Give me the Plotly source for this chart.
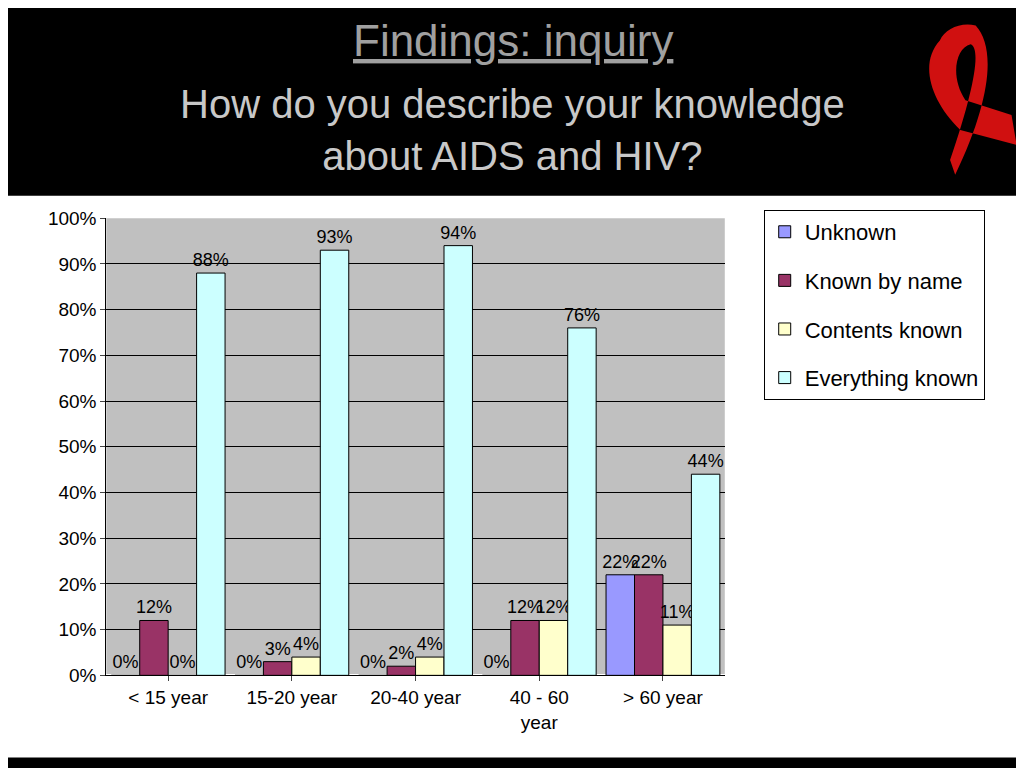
import plotly.graph_objects as go

categories = ["< 15 year", "15-20 year", "20-40 year", "40 - 60<br>year", "> 60 year"]
unknown = [0, 0, 0, 0, 22]
known_by_name = [12, 3, 2, 12, 22]
contents_known = [0, 4, 4, 12, 11]
everything_known = [88, 93, 94, 76, 44]
series = [("Unknown", unknown, "#9999ff"), ("Known by name", known_by_name, "#993366"),
          ("Contents known", contents_known, "#ffffcc"), ("Everything known", everything_known, "#ccffff")]

fig = go.Figure()
for name, vals, col in series:
    fig.add_trace(go.Bar(x=categories, y=vals, name=name, legendgroup=name,
                         marker=dict(color=col, line=dict(color="black", width=1)),
                         text=[f"{v}%" for v in vals], textposition="outside", cliponaxis=False, constraintext="none",
                         textfont=dict(size=18, color="black", family="Liberation Sans")))

fig.update_layout(
    width=1024, height=768, margin=dict(l=0, r=0, t=0, b=0), paper_bgcolor="black", plot_bgcolor="#c0c0c0",
    font=dict(family="Liberation Sans", color="black"),
    barmode="group", bargap=0.08, bargroupgap=0.0,
    xaxis=dict(domain=[0.096, 0.70], tickfont=dict(size=19), showline=True, linecolor="black", ticks="outside"),
    yaxis=dict(domain=[0.12, 0.732], range=[0, 100], dtick=10, ticksuffix="%", tickfont=dict(size=19),
               showgrid=True, gridcolor="black", showline=True, linecolor="black", ticks="outside"),
    legend=dict(x=0.738, y=0.743, xanchor="left", yanchor="top", bgcolor="white", bordercolor="black", borderwidth=1,
                font=dict(size=22), tracegroupgap=17, itemwidth=30),
    shapes=[
        dict(type="rect", xref="paper", yref="paper", x0=0.0, x1=0.997, y0=0.01, y1=0.762, fillcolor="white",
             line=dict(width=0), layer="below"),
        dict(type="rect", xref="x domain", yref="y domain", x0=0, x1=1, y0=0, y1=1, fillcolor="#c0c0c0",
             line=dict(width=0), layer="below"),
        dict(type="path", xref="paper", yref="paper",
             path="M 0.91,0.97 C 0.89,0.94 0.90,0.89 0.93,0.85 L 0.985,0.83 L 0.98,0.87 L 0.935,0.89 C 0.92,0.92 0.925,0.96 0.94,0.965 C 0.95,0.96 0.945,0.91 0.92,0.81 L 0.925,0.79 C 0.96,0.89 0.965,0.96 0.945,0.99 C 0.93,0.995 0.915,0.985 0.91,0.97 Z",
             fillcolor="#d01010", line=dict(width=0)),
    ],
    annotations=[
        dict(text="<u>Findings: inquiry</u>", x=0.493, y=0.97, xref="paper", yref="paper", showarrow=False,
             yanchor="middle", font=dict(size=44, color="#a0a0a0")),
        dict(text="How do you describe your knowledge<br>about AIDS and HIV?", x=0.493, y=0.85, xref="paper", yref="paper",
             yanchor="middle", showarrow=False, font=dict(size=40, color="#c8c8c8")),
    ],
)
fig.write_html("out.html")
